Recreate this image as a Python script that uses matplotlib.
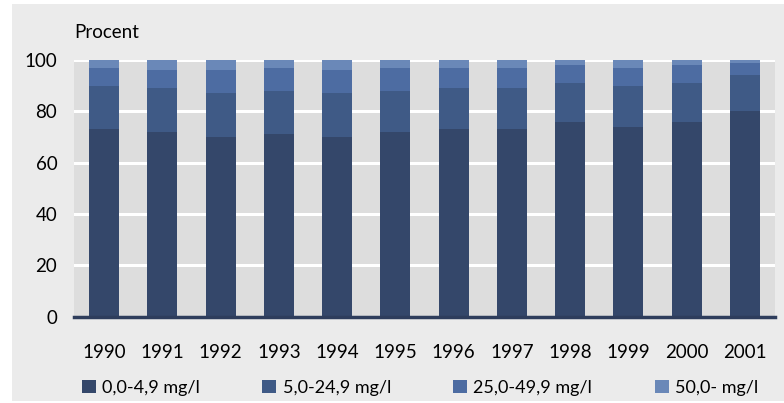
import numpy as np
import matplotlib.pyplot as plt
from matplotlib.patches import Rectangle

plt.rcParams['font.family'] = ['Lato', 'DejaVu Sans']

# data (percent per class)
years = ["1990", "1991", "1992", "1993", "1994", "1995",
         "1996", "1997", "1998", "1999", "2000", "2001"]
c1 = [73, 72, 70, 71, 70, 72, 73, 73, 76, 74, 76, 80]   # 0,0-4,9 mg/l
c2 = [17, 17, 17, 17, 17, 16, 16, 16, 15, 16, 15, 14]   # 5,0-24,9 mg/l
c3 = [7, 7, 9, 9, 9, 9, 8, 8, 7, 7, 7, 5]               # 25,0-49,9 mg/l
c4 = [3, 4, 4, 3, 4, 3, 3, 3, 2, 3, 2, 1]               # 50,0- mg/l
labels = ["0,0-4,9 mg/l", "5,0-24,9 mg/l", "25,0-49,9 mg/l", "50,0- mg/l"]
colors = ["#34476a", "#3f5a86", "#4d6ca2", "#6a88b8"]

fig = plt.figure(figsize=(7.84, 4.03), dpi=100, facecolor="white")
# grey panel behind everything
fig.patches.append(Rectangle((12 / 784, 2 / 403), 1 - 12 / 784, 1 - 6 / 403,
                             transform=fig.transFigure, facecolor="#ebebeb",
                             edgecolor="none", zorder=-10))

ax = fig.add_axes([74 / 784, 1 - 316.7 / 403, 701 / 784, 256.7 / 403])
ax.set_facecolor("#dddddd")

x = np.arange(len(years))
w = 0.515
bottom = np.zeros(len(years))
handles = []
for vals, lab, col in zip([c1, c2, c3, c4], labels, colors):
    b = ax.bar(x, vals, w, bottom=bottom, color=col, label=lab, zorder=3)
    handles.append(b)
    bottom += np.array(vals)

ax.set_xlim(-0.515, len(years) - 1 + 0.515)
ax.set_ylim(0, 100)
ax.set_yticks(range(0, 101, 20))
ax.set_xticks(x)
ax.set_xticklabels(years)
ax.yaxis.grid(True, color="white", linewidth=2.2, zorder=1)
ax.set_axisbelow(True)
for s in ["top", "right", "left"]:
    ax.spines[s].set_visible(False)
ax.spines["bottom"].set_color("#2e3d5c")
ax.spines["bottom"].set_linewidth(2.5)
ax.spines["bottom"].set_zorder(5)
ax.tick_params(length=0, labelsize=13.5, colors="black")
ax.tick_params(axis="y", pad=12)
ax.tick_params(axis="x", pad=20)

fig.text(74 / 784, 1 - 33 / 403, "Procent", fontsize=13.5, va="center", ha="left")

fig.legend(handles=handles, labels=labels, loc="center left",
           bbox_to_anchor=(82 / 784, 1 - 388 / 403), ncol=4, frameon=False,
           fontsize=13, handlelength=0.77, handleheight=0.77,
           handletextpad=0.35, columnspacing=3.45, borderpad=0, borderaxespad=0)

fig.savefig("out.png", dpi=100, facecolor=fig.get_facecolor())
